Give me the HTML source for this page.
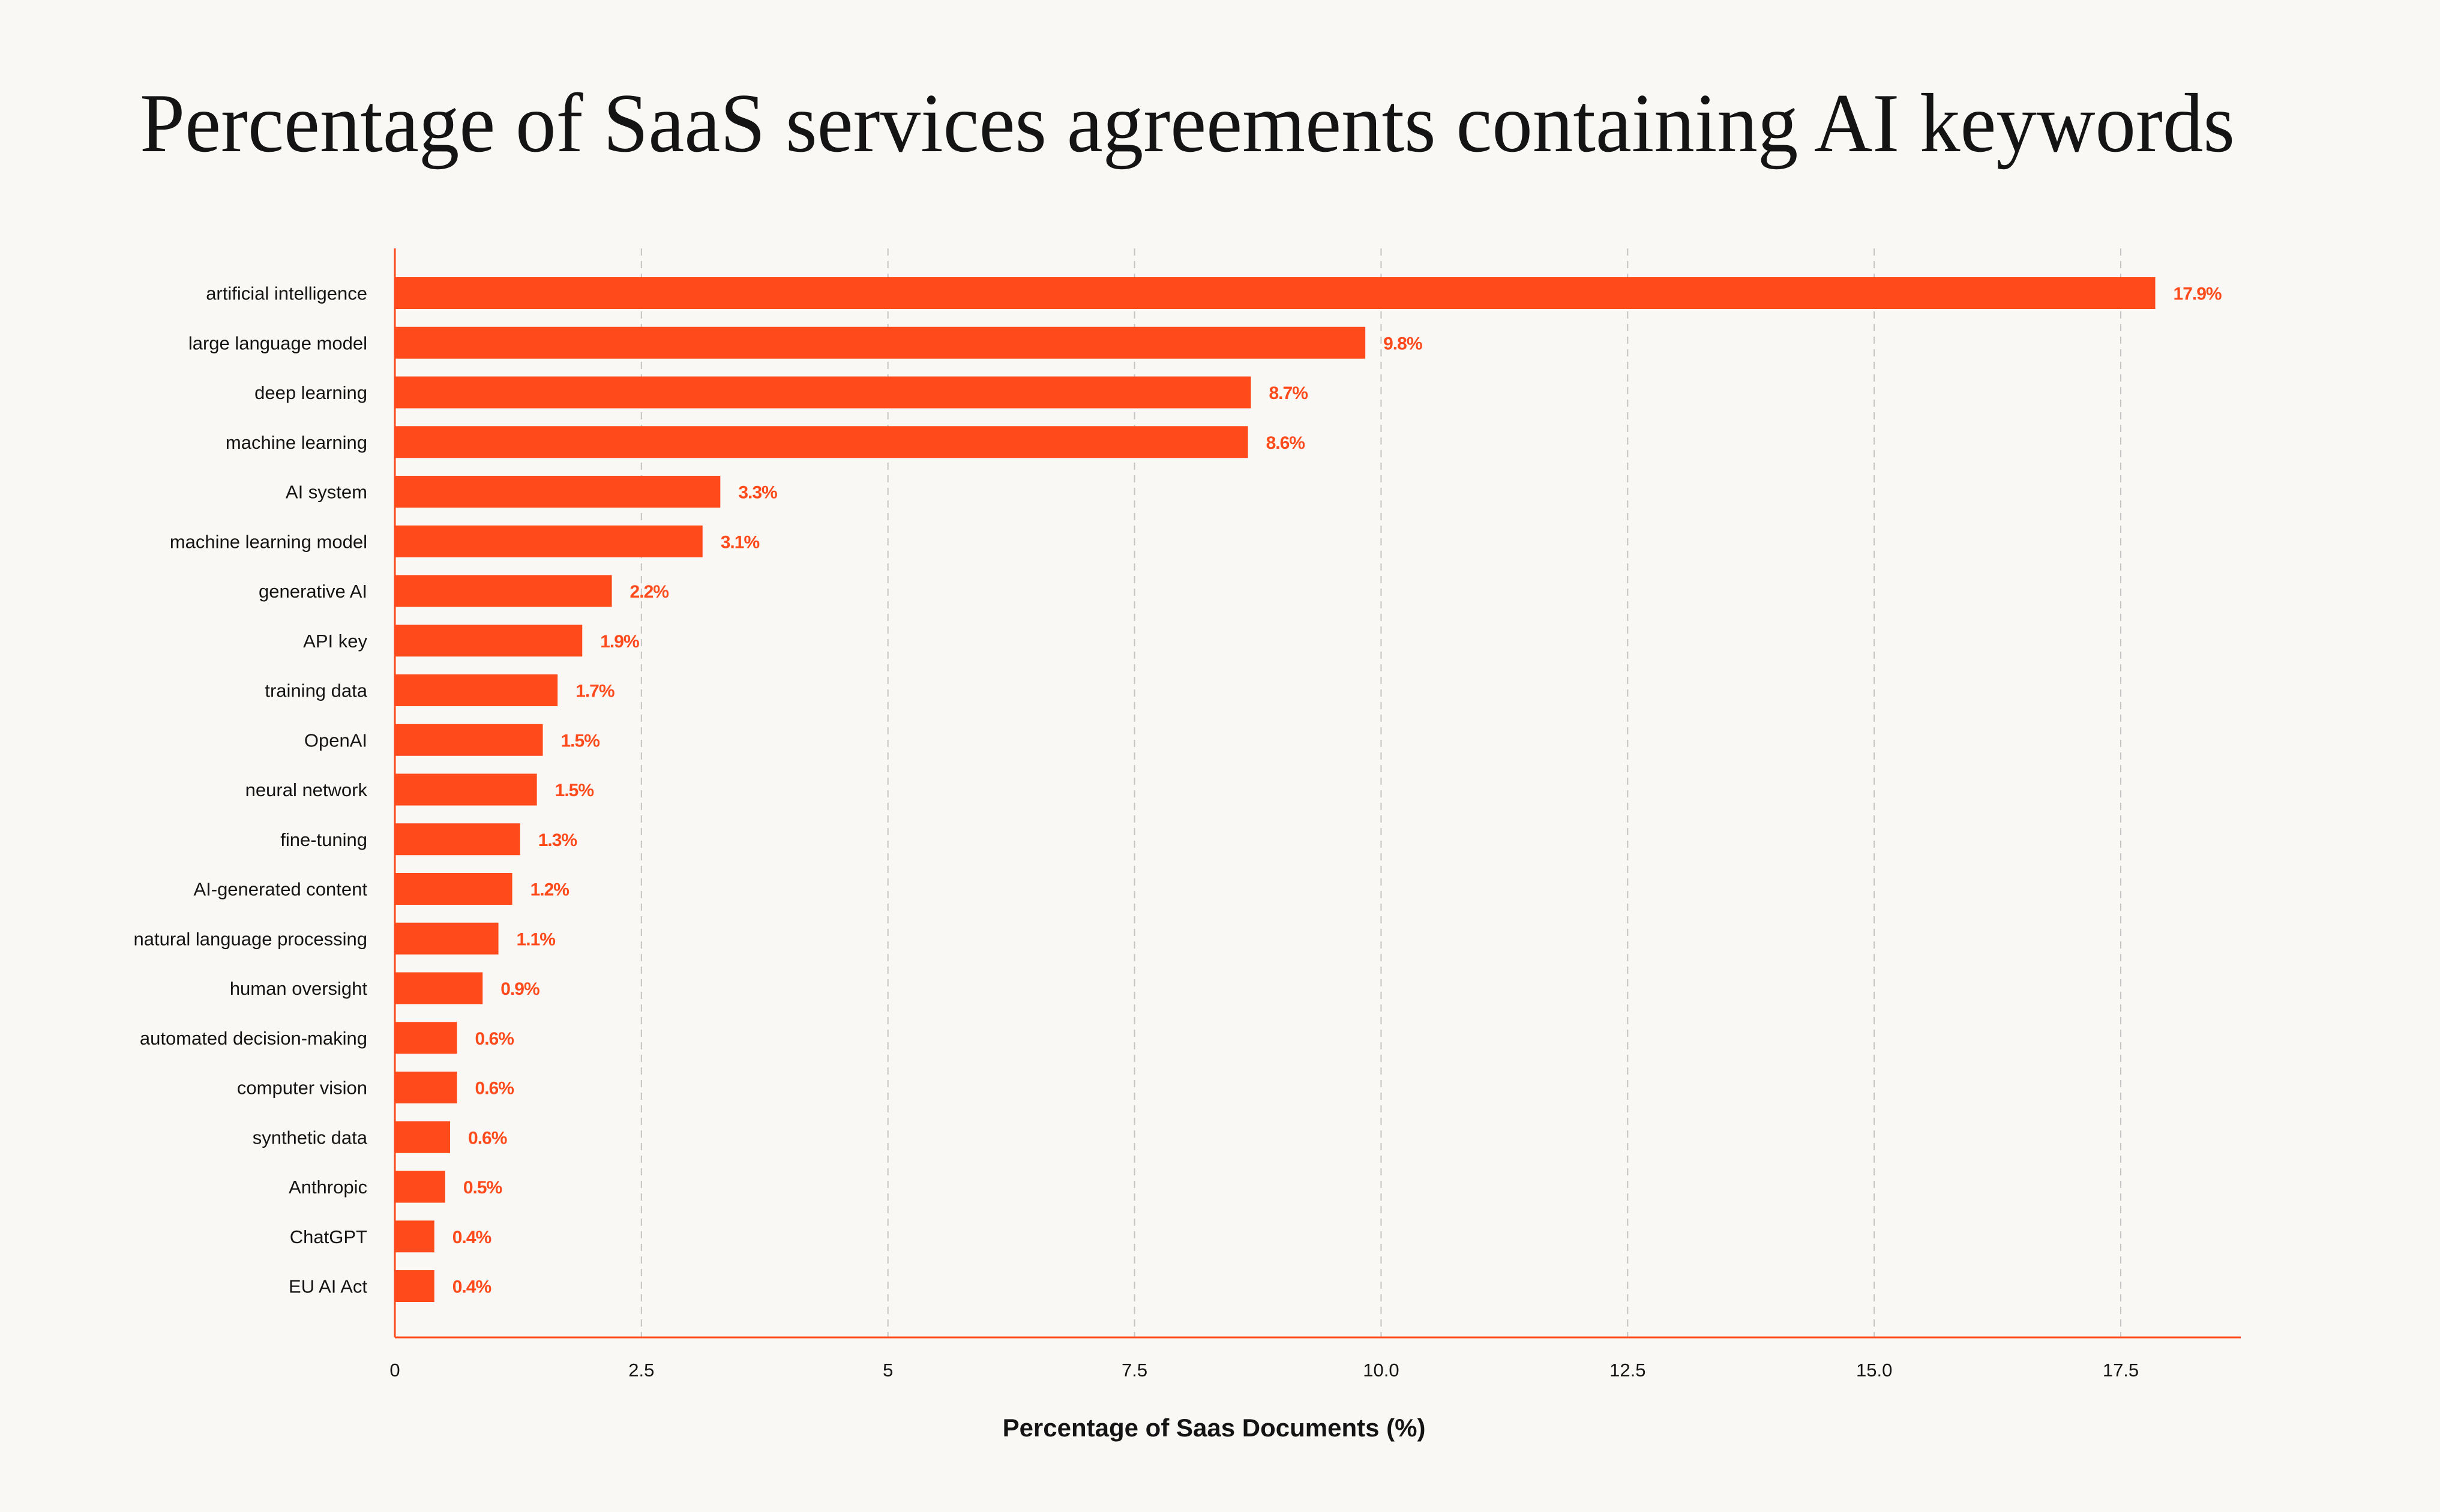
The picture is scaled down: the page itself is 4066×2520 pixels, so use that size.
<!DOCTYPE html>
<html><head><meta charset="utf-8"><style>
html,body{margin:0;padding:0;background:#f9f8f4;}
svg{display:block;}
</style></head><body>
<svg id="chart" width="4066" height="2520" viewBox="0 0 4066 2520" xmlns="http://www.w3.org/2000/svg">
<rect width="4066" height="2520" fill="#f9f8f4"/>
<text x="233" y="252" font-family="Liberation Serif, serif" font-size="140" fill="#141414" textLength="3491" lengthAdjust="spacingAndGlyphs">Percentage of SaaS services agreements containing AI keywords</text>
<g id="grid"></g><g id="bars"></g><g id="labels"></g>
<line x1="658" y1="414" x2="658" y2="2229" stroke="#ff4a1c" stroke-width="3"/>
<line x1="658" y1="2229" x2="3734" y2="2229" stroke="#ff4a1c" stroke-width="3"/>
<text x="2023" y="2394" text-anchor="middle" font-family="Liberation Sans, sans-serif" font-size="42" font-weight="bold" fill="#141414">Percentage of Saas Documents (%)</text>
</svg>
<script>
const categories = ["artificial intelligence","large language model","deep learning","machine learning","AI system","machine learning model","generative AI","API key","training data","OpenAI","neural network","fine-tuning","AI-generated content","natural language processing","human oversight","automated decision-making","computer vision","synthetic data","Anthropic","ChatGPT","EU AI  Act"];
const values = [17.85,9.84,8.68,8.65,3.3,3.12,2.2,1.9,1.65,1.5,1.44,1.27,1.19,1.05,0.89,0.63,0.63,0.56,0.51,0.4,0.4];
const valueLabels = ["17.9%","9.8%","8.7%","8.6%","3.3%","3.1%","2.2%","1.9%","1.7%","1.5%","1.5%","1.3%","1.2%","1.1%","0.9%","0.6%","0.6%","0.6%","0.5%","0.4%","0.4%"];
const tickValues = [0,2.5,5,7.5,10,12.5,15,17.5];
const tickLabels = ["0","2.5","5","7.5","10.0","12.5","15.0","17.5"];

const NS="http://www.w3.org/2000/svg";
const x0=658, pxPerUnit=(3534-658)/17.5;
const xs=v=>x0+v*pxPerUnit;
const yTop=462, pitch=82.75, barH=53;
const ys=i=>yTop+i*pitch;
function mk(tag,attrs,parent){const e=document.createElementNS(NS,tag);for(const k in attrs)e.setAttribute(k,attrs[k]);parent.appendChild(e);return e;}
const grid=document.getElementById('grid'),bars=document.getElementById('bars'),labels=document.getElementById('labels');
tickValues.forEach((t,i)=>{
  if(t>0){
    const l=mk('line',{x1:xs(t),x2:xs(t),y1:414,y2:2229,stroke:'#c4c4c4','stroke-width':2,'stroke-dasharray':'12 9'},grid);
    
    
  }
  const tx=mk('text',{x:xs(t),y:2294,'text-anchor':'middle','font-family':'Liberation Sans, sans-serif','font-size':31,fill:'#141414'},grid);
  tx.textContent=tickLabels[i];
  
  
});
categories.forEach((c,i)=>{
  const y=ys(i);
  const r=mk('rect',{x:x0,y:y,width:xs(values[i])-x0,height:barH,fill:'#ff4a1c'},bars);
  
  
  const t=mk('text',{x:612,y:y+barH/2+11,'text-anchor':'end','font-family':'Liberation Sans, sans-serif','font-size':31,fill:'#141414'},labels);
  t.textContent=c;
  
  
  const v=mk('text',{x:xs(values[i])+30,y:y+barH/2+11,'font-family':'Liberation Sans, sans-serif','font-size':30,'font-weight':'bold',fill:'#ff4a1c','letter-spacing':'-1'},labels);
  v.textContent=valueLabels[i];
  
  
});
</script>
</body></html>
